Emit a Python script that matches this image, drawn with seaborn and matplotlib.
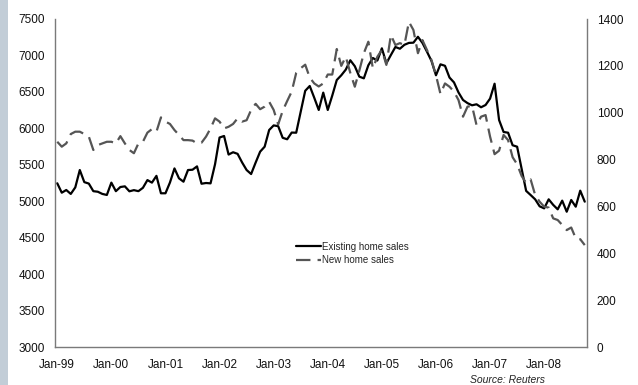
import matplotlib
matplotlib.use("Agg")
import matplotlib.pyplot as plt
from matplotlib.patches import Rectangle
import seaborn as sns
import pandas as pd
import numpy as np

# Monthly series, Jan-99 .. Oct-08
existing_sales = [
    5246, 5117, 5154, 5100, 5190, 5428, 5262, 5242, 5138, 5130, 5100, 5086,
    5255, 5138, 5195, 5204, 5136, 5152, 5138, 5184, 5290, 5255, 5348, 5109,
    5109, 5257, 5450, 5314, 5268, 5428, 5432, 5478, 5240, 5250, 5245, 5508,
    5874, 5895, 5640, 5672, 5650, 5532, 5428, 5373, 5530, 5680, 5748, 5977,
    6040, 6030, 5870, 5850, 5942, 5940, 6228, 6515, 6581, 6420, 6252, 6490,
    6252, 6450, 6663, 6728, 6806, 6934, 6852, 6709, 6686, 6865, 6965, 6930,
    7098, 6892, 7006, 7116, 7092, 7146, 7172, 7175, 7256, 7172, 7052, 6925,
    6728, 6878, 6858, 6697, 6630, 6492, 6389, 6346, 6316, 6330, 6289, 6320,
    6408, 6612, 6114, 5950, 5940, 5768, 5748, 5445, 5142, 5085, 5026, 4930,
    4902, 5026, 4950, 4889, 5008, 4856, 5017, 4925, 5145, 4994,
]
new_sales = [
    876, 855, 869, 909, 919, 919, 909, 898, 841, 862, 869, 876,
    876, 869, 900, 869, 841, 827, 869, 876, 915, 930, 919, 980,
    962, 952, 926, 905, 883, 883, 881, 869, 872, 898, 933, 976,
    962, 933, 940, 952, 976, 962, 968, 1012, 1038, 1015, 1026, 1047,
    1012, 950, 1008, 1050, 1090, 1170, 1190, 1205, 1150, 1125, 1112, 1125,
    1163, 1163, 1272, 1200, 1239, 1170, 1111, 1180, 1254, 1303, 1190, 1239,
    1268, 1204, 1332, 1289, 1297, 1289, 1388, 1353, 1254, 1310, 1268, 1225,
    1160, 1080, 1125, 1111, 1090, 1054, 983, 1026, 1029, 947, 983, 990,
    898, 823, 838, 905, 883, 810, 780, 730, 700, 715, 649, 620,
    599, 595, 549, 542, 521, 499, 510, 464, 460, 435,
]
year_labels = ["Jan-99", "Jan-00", "Jan-01", "Jan-02", "Jan-03",
               "Jan-04", "Jan-05", "Jan-06", "Jan-07", "Jan-08"]
left_ticks = [3000, 3500, 4000, 4500, 5000, 5500, 6000, 6500, 7000, 7500]
right_ticks = [0, 200, 400, 600, 800, 1000, 1200, 1400]

df = pd.DataFrame({
    "month": np.arange(len(existing_sales)),
    "existing": existing_sales,
    "new": new_sales,
})

sns.set_theme(style="white")
plt.rcParams["font.family"] = ["Liberation Sans", "DejaVu Sans"]

W, H = 638, 385
fig = plt.figure(figsize=(W / 100, H / 100), dpi=100)
fig.patch.set_facecolor("white")
fig.patches.append(Rectangle((0, 0), 8 / W, 1, transform=fig.transFigure,
                             facecolor="#c2cdd7", edgecolor="none", zorder=0))

ax = fig.add_axes([55 / W, 1 - 347 / H, 532 / W, 328 / H])
ax2 = ax.twinx()

sns.lineplot(data=df, x="month", y="existing", ax=ax, color="black",
             linewidth=1.6, label="Existing home sales", legend=False)
sns.lineplot(data=df, x="month", y="new", ax=ax2, color="#555555",
             linewidth=1.6, label="New home sales", legend=False)
ax2.lines[0].set_dashes([6.5, 3.2])
ax2.lines[0].set_dash_capstyle("butt")

ax.set_xlim(-0.5, len(existing_sales) - 0.5)
ax.set_ylim(3000, 7500)
ax2.set_ylim(0, 1400)

ax.set_xticks(np.arange(0, 12 * len(year_labels), 12))
ax.set_xticklabels(year_labels)
ax.set_yticks(left_ticks)
ax.set_yticklabels([str(v) for v in left_ticks])
ax2.set_yticks(right_ticks)
ax2.set_yticklabels([str(v) for v in right_ticks])

for a in (ax, ax2):
    a.set_xlabel("")
    a.set_ylabel("")
    a.grid(False)
    a.set_facecolor("none")
    for side, sp in a.spines.items():
        sp.set_color("#7a7a7a")
        sp.set_linewidth(1.0)
    a.spines["top"].set_visible(False)

ax.spines["right"].set_visible(False)
ax2.spines["left"].set_visible(False)
ax2.spines["bottom"].set_visible(False)

ax.tick_params(axis="x", length=0, pad=9, labelsize=8.5, labelcolor="#111111")
ax.tick_params(axis="y", length=0, pad=7, labelsize=8.5, labelcolor="#111111")
ax2.tick_params(axis="y", length=0, pad=7, labelsize=8.5, labelcolor="#111111")

handles = [ax.lines[0], ax2.lines[0]]
leg = ax2.legend(handles, [h.get_label() for h in handles],
                 loc="center left", bbox_to_anchor=(0.453, 0.285),
                 frameon=False, fontsize=7, handlelength=2.6,
                 handletextpad=0.1, labelspacing=0.35, borderpad=0,
                 borderaxespad=0)

fig.text(545 / W, 1 - 380 / H, "Source: Reuters", ha="right", va="center",
         fontsize=7.5, style="italic", color="#222222")

fig.savefig("out.png", dpi=100)
